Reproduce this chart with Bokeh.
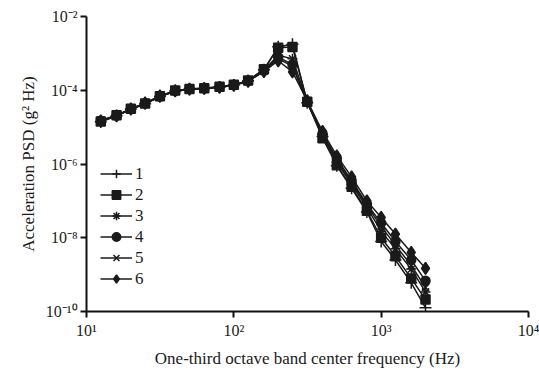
from bokeh.plotting import figure
from bokeh.models import Range1d, FixedTicker, CustomJSTickFormatter, Legend, LegendItem
from bokeh.embed import file_html
from bokeh.resources import INLINE

freq = [12.5, 16, 20, 25, 31.5, 40, 50, 63, 80, 100, 125, 160,
        200, 250, 315, 400, 500, 630, 800, 1000, 1250, 1600, 2000]

s1 = [1.38e-5, 2.04e-5, 3.09e-5, 4.37e-5, 6.76e-5, 9.55e-5, 1.07e-4, 1.12e-4, 1.23e-4, 1.38e-4, 1.82e-4, 3.6e-4,
      1.51e-3, 1.78e-3, 4.6e-5, 5.6e-6, 8.9e-7, 2.19e-7, 5.0e-8, 7.9e-9, 2.5e-9, 6.0e-10, 1.26e-10]
s2 = [1.41e-5, 2.09e-5, 3.16e-5, 4.4e-5, 6.9e-5, 9.8e-5, 1.08e-4, 1.14e-4, 1.25e-4, 1.4e-4, 1.85e-4, 3.7e-4,
      1.41e-3, 1.48e-3, 4.9e-5, 5.0e-6, 9.3e-7, 2.4e-7, 5.4e-8, 1.0e-8, 3.16e-9, 7.9e-10, 2.1e-10]
s3 = [1.45e-5, 2.0e-5, 3.05e-5, 4.3e-5, 6.7e-5, 9.4e-5, 1.06e-4, 1.11e-4, 1.21e-4, 1.36e-4, 1.8e-4, 3.5e-4,
      8.9e-4, 7.1e-4, 5.0e-5, 6.3e-6, 1.12e-6, 2.82e-7, 6.6e-8, 1.51e-8, 5.0e-9, 1.41e-9, 3.4e-10]
s4 = [1.5e-5, 2.06e-5, 3.12e-5, 4.45e-5, 6.8e-5, 9.6e-5, 1.09e-4, 1.13e-4, 1.24e-4, 1.39e-4, 1.78e-4, 3.4e-4,
      7.9e-4, 5.0e-4, 4.8e-5, 6.6e-6, 1.41e-6, 3.55e-7, 8.3e-8, 2.5e-8, 7.9e-9, 2.5e-9, 6.8e-10]
s5 = [1.55e-5, 2.1e-5, 3.0e-5, 4.35e-5, 6.6e-5, 9.5e-5, 1.05e-4, 1.1e-4, 1.22e-4, 1.37e-4, 1.76e-4, 3.3e-4,
      7.1e-4, 4.5e-4, 4.7e-5, 6.3e-6, 1.26e-6, 3.16e-7, 7.6e-8, 2.0e-8, 6.3e-9, 1.78e-9, 4.5e-10]
s6 = [1.48e-5, 2.02e-5, 3.1e-5, 4.5e-5, 7.0e-5, 9.7e-5, 1.07e-4, 1.12e-4, 1.2e-4, 1.35e-4, 1.75e-4, 3.2e-4,
      6.3e-4, 3.16e-4, 5.2e-5, 7.6e-6, 1.66e-6, 4.47e-7, 1.0e-7, 3.55e-8, 1.26e-8, 4.0e-9, 1.48e-9]

series_names = ["1", "2", "3", "4", "5", "6"]
series_values = [s1, s2, s3, s4, s5, s6]
markers = ["cross", "square", "asterisk", "circle", "x", "diamond"]
marker_sizes = [12, 9, 10, 9, 10, 12]

x_ticks = [10, 100, 1000, 10000]
y_ticks = [1e-10, 1e-8, 1e-6, 1e-4, 1e-2]

FONT = "Liberation Serif"

p = figure(width=539, height=377, x_axis_type="log", y_axis_type="log",
           x_range=Range1d(10, 1e4), y_range=Range1d(1e-10, 1e-2),
           output_backend="svg", toolbar_location=None,
           min_border_left=86, min_border_right=11, min_border_top=16, min_border_bottom=66)

p.outline_line_color = None
p.xgrid.visible = False
p.ygrid.visible = False

fmt_code = """
const e = Math.round(Math.log10(tick));
const sup = {'-':'\u207b','0':'\u2070','1':'\u00b9','2':'\u00b2','3':'\u00b3','4':'\u2074','5':'\u2075','6':'\u2076','7':'\u2077','8':'\u2078','9':'\u2079'};
let s = '';
for (const c of String(e)) { s += sup[c]; }
return '10' + s;
"""

for ax, ticks in ((p.xaxis[0], x_ticks), (p.yaxis[0], y_ticks)):
    ax.ticker = FixedTicker(ticks=ticks, minor_ticks=[])
    ax.formatter = CustomJSTickFormatter(code=fmt_code)
    ax.axis_line_width = 2
    ax.axis_line_color = "#111111"
    ax.major_tick_line_width = 2
    ax.major_tick_line_color = "#111111"
    ax.major_tick_out = 6
    ax.major_tick_in = 0
    ax.minor_tick_out = 0
    ax.minor_tick_in = 0
    ax.major_label_text_font = FONT
    ax.major_label_text_font_size = "16px"
    ax.major_label_text_color = "#1a1a1a"
    ax.axis_label_text_font = FONT
    ax.axis_label_text_font_size = "17px"
    ax.axis_label_text_font_style = "normal"
    ax.axis_label_text_color = "#1a1a1a"

p.xaxis.axis_label = "One-third octave band center frequency (Hz)"
p.yaxis.axis_label = "Acceleration PSD (g\u00b2 Hz)"
p.xaxis.major_label_standoff = 4
p.yaxis.major_label_standoff = 3
p.xaxis.axis_label_standoff = 7
p.yaxis.axis_label_standoff = 5

items = []
for name, vals, mk, ms in zip(series_names, series_values, markers, marker_sizes):
    l = p.line(freq, vals, line_color="#1a1a1a", line_width=1.5)
    s = p.scatter(freq, vals, marker=mk, size=ms, fill_color="#1a1a1a",
                  line_color="#1a1a1a", line_width=1.5)
    items.append(LegendItem(label=name, renderers=[l, s]))

legend = Legend(items=items, location=(14, 22), border_line_color=None,
                background_fill_alpha=0, padding=0, margin=0, spacing=0,
                glyph_width=32, glyph_height=21, label_height=21,
                label_standoff=3, label_text_font=FONT, label_text_font_size="17px",
                label_text_color="#1a1a1a")
p.add_layout(legend, "center")

open("out.html", "w").write(file_html(p, INLINE))
